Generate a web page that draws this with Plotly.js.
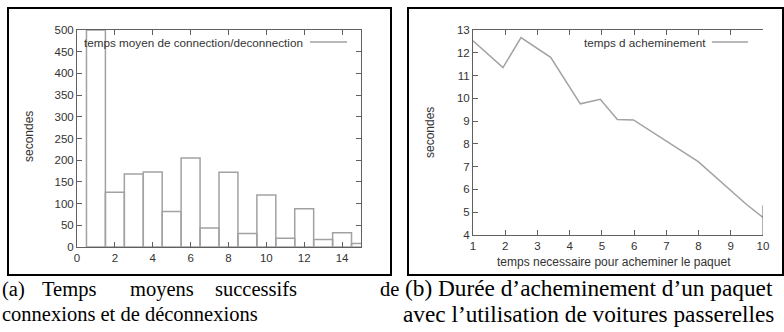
<!DOCTYPE html>
<html><head><meta charset="utf-8">
<script src="https://cdn.plot.ly/plotly-3.0.1.min.js"></script>
<style>html,body{margin:0;padding:0;background:#fff;overflow:hidden}#chart{width:784px;height:332px}</style>
</head><body><div id="chart"></div>
<script>
// ---- data ----
const histX = [1,2,3,4,5,6,7,8,9,10,11,12,13,14,15];
const histY = [500,126,168,173,82,205,44,172,31,120,20,88,17,33,8];
const histName = "temps moyen de connection/deconnection";

const lineX = [1,1.93,2.49,3.41,4.33,4.95,5.48,5.98,7.99,9.49,10];
const lineY = [12.53,11.35,12.67,11.8,9.76,9.96,9.07,9.05,7.22,5.34,4.77];
const lineName = "temps d acheminement";

const xTicksA = [0,2,4,6,8,10,12,14];
const yTicksA = [0,50,100,150,200,250,300,350,400,450,500];
const xTicksB = [1,2,3,4,5,6,7,8,9,10];
const yTicksB = [4,5,6,7,8,9,10,11,12,13];

const yTitle = "secondes";
const xTitleB = "temps necessaire pour acheminer le paquet";
const capA1 = ["(a)","Temps","moyens","successifs","de"];
const capA2 = "connexions et de déconnexions";
const capB1 = "(b) Durée d’acheminement d’un paquet";
const capB2 = "avec l’utilisation de voitures passerelles";

// ---- layout helpers ----
const W = 784, H = 332;
const px = v => v / W;
const py = v => 1 - v / H;
const gray = "#a2a2a2";
const axCol = "#606060";
const sans = "Liberation Sans, Arial, sans-serif";
const serif = "Liberation Serif, Times New Roman, serif";
const tickFont = {family: sans, size: 11.5, color: "#333"};
const labFont = {family: sans, size: 12, color: "#333"};
const legFont = {family: sans, size: 11.7, color: "#333"};
const capFontA = {family: serif, size: 20.5, color: "#000"};
const capFontB = {family: serif, size: 23.3, color: "#000"};

function axis(extra) {
  return Object.assign({
    showgrid: false, zeroline: false, showline: true, linecolor: axCol, linewidth: 1,
    ticks: "inside", ticklen: 5, tickcolor: axCol, tickwidth: 1,
    tickfont: tickFont, tickmode: "array", fixedrange: true
  }, extra);
}

const traces = [
  {type: "bar", x: histX, y: histY, name: histName, width: 1,
   marker: {color: "rgba(255,255,255,0)", line: {color: gray, width: 1.5}},
   xaxis: "x", yaxis: "y", showlegend: false, hoverinfo: "x+y"},
  {type: "scatter", mode: "lines", x: lineX, y: lineY, name: lineName,
   line: {color: gray, width: 1.5}, xaxis: "x2", yaxis: "y2", showlegend: false}
];

const annotations = [
  // axis titles
  {text: yTitle, xref: "paper", yref: "paper", x: px(29), y: py(137), textangle: -90,
   showarrow: false, font: labFont, xanchor: "center", yanchor: "middle"},
  {text: yTitle, xref: "paper", yref: "paper", x: px(430), y: py(133), textangle: -90,
   showarrow: false, font: labFont, xanchor: "center", yanchor: "middle"},
  {text: xTitleB, xref: "paper", yref: "paper", x: px(614), y: py(262),
   showarrow: false, font: labFont, xanchor: "center", yanchor: "middle"},
  // legend texts
  {text: histName, xref: "paper", yref: "paper", x: px(305), y: py(42),
   showarrow: false, font: legFont, xanchor: "right", yanchor: "middle"},
  {text: lineName, xref: "paper", yref: "paper", x: px(708), y: py(42),
   showarrow: false, font: legFont, xanchor: "right", yanchor: "middle"},
  // captions
  {text: capA2, xref: "paper", yref: "paper", x: px(0), y: py(314),
   showarrow: false, font: capFontA, xanchor: "left", yanchor: "middle"},
  {text: capB1, xref: "paper", yref: "paper", x: px(403), y: py(288),
   showarrow: false, font: capFontB, xanchor: "left", yanchor: "middle"},
  {text: capB2, xref: "paper", yref: "paper", x: px(401), y: py(314),
   showarrow: false, font: capFontB, xanchor: "left", yanchor: "middle"}
];
const capA1X = [0, 40, 128, 213, 378];
capA1.forEach((w, i) => annotations.push({text: w, xref: "paper", yref: "paper",
  x: px(capA1X[i]), y: py(289), showarrow: false, font: capFontA, xanchor: "left", yanchor: "middle"}));

const shapes = [
  {type: "rect", xref: "paper", yref: "paper", x0: px(8), x1: px(391), y0: py(275), y1: py(8),
   line: {color: "#000", width: 2}},
  {type: "rect", xref: "paper", yref: "paper", x0: px(408), x1: px(783), y0: py(275), y1: py(8),
   line: {color: "#000", width: 2}},
  // legend samples
  {type: "line", xref: "paper", yref: "paper", x0: px(310), x1: px(347), y0: py(42), y1: py(42),
   line: {color: gray, width: 1.5}},
  {type: "line", xref: "paper", yref: "paper", x0: px(712), x1: px(748), y0: py(42), y1: py(42),
   line: {color: gray, width: 1.5}},
  // partial right border of panel b
  {type: "line", xref: "x2", yref: "y2", x0: 10, x1: 10, y0: 4, y1: 5.3,
   line: {color: axCol, width: 1}}
];

const layout = {
  width: W, height: H, margin: {l: 0, r: 0, t: 0, b: 0},
  paper_bgcolor: "#fff", plot_bgcolor: "rgba(0,0,0,0)", showlegend: false,
  bargap: 0,
  xaxis: axis({domain: [px(77), px(361)], range: [0, 15], tickvals: xTicksA, mirror: "ticks", anchor: "y"}),
  yaxis: axis({domain: [py(247), py(30)], range: [0, 500], tickvals: yTicksA, mirror: "ticks", anchor: "x"}),
  xaxis2: axis({domain: [px(473), px(763)], range: [1, 10], tickvals: xTicksB, mirror: "ticks", anchor: "y2"}),
  yaxis2: axis({domain: [py(235), py(30)], range: [4, 13], tickvals: yTicksB, anchor: "x2"}),
  yaxis3: axis({overlaying: "y2", side: "right", anchor: "x2", range: [4, 13], tickvals: yTicksB,
                showline: false, showticklabels: false}),
  annotations: annotations, shapes: shapes
};

Plotly.newPlot("chart", traces, layout, {staticPlot: true, displayModeBar: false});
</script></body></html>
